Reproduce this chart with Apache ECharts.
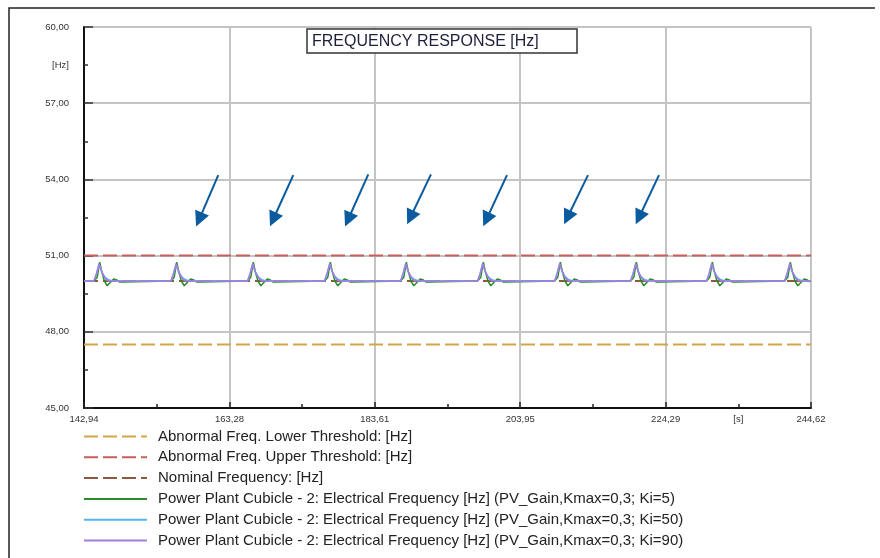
<!DOCTYPE html>
<html><head><meta charset="utf-8">
<script src="https://cdn.jsdelivr.net/npm/echarts@6/dist/echarts.min.js"></script>
<style>html,body{margin:0;padding:0;background:#fff}#c{width:880px;height:558px}</style>
</head><body><div id="c"></div>
<script>
// ---- axis extents and tick labels ----
const xMin = 142.94, xMax = 244.62;
const xTickValues = [142.94, 163.28, 183.61, 203.95, 224.29, 244.62];
const xMinorTicks = [153.11, 173.45, 193.78, 214.12, 234.45];
const xLabelValues = [142.94, 163.28, 183.61, 203.95, 224.29, 234.45, 244.62];
const xLabelTexts = ['142,94', '163,28', '183,61', '203,95', '224,29', '[s]', '244,62'];
const yMin = 45, yMax = 60, yStep = 3;
const yLabelValues = [45, 48, 51, 54, 57, 58.5, 60];
const yLabelTexts = ['45,00', '48,00', '51,00', '54,00', '57,00', '[Hz]', '60,00'];

// ---- series ----
const seriesNames = [
  'Abnormal Freq. Lower Threshold: [Hz]',
  'Abnormal Freq. Upper Threshold: [Hz]',
  'Nominal Frequency: [Hz]',
  'Power Plant Cubicle - 2: Electrical Frequency [Hz] (PV_Gain,Kmax=0,3; Ki=5)',
  'Power Plant Cubicle - 2: Electrical Frequency [Hz] (PV_Gain,Kmax=0,3; Ki=50)',
  'Power Plant Cubicle - 2: Electrical Frequency [Hz] (PV_Gain,Kmax=0,3; Ki=90)'
];
const lowerThreshold = 47.5;
const upperThreshold = 51.0;
const nominalFreq = 50.0;
// start times of the repeated disturbances [s]
const eventStarts = [144.34, 155.11, 165.82, 176.59, 187.22, 197.99, 208.76, 219.39, 230.02, 240.93];
// transient response after each disturbance: [seconds after start, Hz]
const greenKi5 = [[0, 50.0], [0.45, 50.15], [0.8, 50.74], [1.1, 50.35], [1.45, 50.0], [1.85, 49.81], [2.3, 49.95], [2.75, 50.08], [3.2, 50.04], [3.55, 49.96], [4.0, 49.96], [4.2, 50.0]];
const blueKi50 = [[0, 50.0], [0.35, 50.28], [0.72, 50.66], [1.1, 50.35], [1.5, 50.16], [2.0, 50.05], [2.6, 50.0]];
const purpleKi90 = [[0, 50.0], [0.35, 50.3], [0.7, 50.68], [1.0, 50.42], [1.35, 50.2], [1.7, 50.06], [2.1, 50.0]];

// ---- arrow annotations (data coordinates) ----
const arrowTails = [[161.72, 54.17], [172.21, 54.17], [182.70, 54.2], [191.47, 54.2], [202.10, 54.17], [213.43, 54.17], [223.36, 54.17]];
const arrowHeads = [[159.04, 52.42], [169.39, 52.42], [179.88, 52.42], [188.59, 52.5], [199.22, 52.42], [210.55, 52.5], [220.56, 52.5]];

const colors = ['#d2a546', '#c85e5e', '#8c5a3e', '#2a8c2a', '#55b4f0', '#a77ce0'];
const FONT = '"Liberation Sans", Arial, sans-serif';

function buildTrace(shape) {
  const pts = [[xMin, nominalFreq]];
  eventStarts.forEach(t0 => shape.forEach(p => pts.push([+(t0 + p[0]).toFixed(3), p[1]])));
  if (pts[pts.length - 1][0] < xMax) pts.push([xMax, nominalFreq]);
  return pts.filter(p => p[0] <= xMax);
}
function flat(v) { return [[xMin, v], [xMax, v]]; }
function pick(vals, texts, v) {
  for (let i = 0; i < vals.length; i++) if (Math.abs(vals[i] - v) < 1e-6) return texts[i];
  return '';
}

const chart = echarts.init(document.getElementById('c'), null, {renderer: 'canvas'});
const lineBase = {type: 'line', symbol: 'none', showSymbol: false, animation: false, silent: true, emphasis: {disabled: true}};

chart.setOption({
  animation: false,
  backgroundColor: '#fff',
  grid: {left: 84, right: 69, top: 27, bottom: 150, containLabel: false, outerBoundsMode: 'none'},
  xAxis: [{
    type: 'value', min: xMin, max: xMax, position: 'bottom',
    axisLine: {show: true, onZero: false, lineStyle: {color: '#111', width: 2}},
    axisTick: {show: true, inside: true, length: 6, customValues: xTickValues, lineStyle: {color: '#222', width: 1.5}},
    axisLabel: {show: true, customValues: xLabelValues, margin: 6, fontSize: 9.5, color: '#333', fontFamily: FONT,
      showMinLabel: true, showMaxLabel: true, hideOverlap: false,
      formatter: v => pick(xLabelValues, xLabelTexts, v)},
    splitLine: {show: true, lineStyle: {color: '#c4c4c4', width: 2}}
  }, {
    type: 'value', min: xMin, max: xMax, position: 'bottom',
    axisLine: {show: false},
    axisTick: {show: true, inside: true, length: 4, customValues: xMinorTicks, lineStyle: {color: '#222', width: 1.5}},
    axisLabel: {show: false},
    splitLine: {show: false}
  }],
  yAxis: {
    type: 'value', min: yMin, max: yMax, interval: yStep,
    axisLine: {show: true, onZero: false, lineStyle: {color: '#111', width: 2}},
    axisTick: {show: true, inside: true, length: 9, lineStyle: {color: '#333', width: 1.5}},
    minorTick: {show: true, splitNumber: 2, length: 4, lineStyle: {color: '#333', width: 1.5}},
    axisLabel: {show: true, customValues: yLabelValues, margin: 15, fontSize: 9.5, color: '#333', fontFamily: FONT,
      showMinLabel: true, showMaxLabel: true, hideOverlap: false,
      formatter: v => pick(yLabelValues, yLabelTexts, v)},
    splitLine: {show: true, lineStyle: {color: '#c4c4c4', width: 2}}
  },
  legend: {
    orient: 'vertical', left: 78, top: 424, itemWidth: 63, itemHeight: 14, itemGap: 5.8,
    selectedMode: false, itemStyle: {opacity: 0},
    textStyle: {fontFamily: FONT, fontSize: 15, lineHeight: 15, color: '#222', padding: [0, 0, 0, 6]},
    data: seriesNames
  },
  series: [
    Object.assign({}, lineBase, {name: seriesNames[0], data: flat(lowerThreshold), color: colors[0],
      lineStyle: {color: colors[0], width: 1.8, type: [14, 5]}}),
    Object.assign({}, lineBase, {name: seriesNames[1], data: flat(upperThreshold), color: colors[1],
      lineStyle: {color: colors[1], width: 2, type: [14, 5]}}),
    Object.assign({}, lineBase, {name: seriesNames[2], data: flat(nominalFreq), color: colors[2],
      lineStyle: {color: colors[2], width: 1.8, type: [14, 5]},
      markLine: {silent: true, animation: false, symbol: ['none', 'triangle'], symbolSize: 15,
        label: {show: false}, emphasis: {disabled: true},
        lineStyle: {color: '#0b5c9e', width: 2, type: 'solid'},
        data: arrowTails.map((t, i) => [{coord: t}, {coord: arrowHeads[i]}])}}),
    Object.assign({}, lineBase, {name: seriesNames[3], data: buildTrace(greenKi5), color: colors[3],
      lineStyle: {color: colors[3], width: 1.5}}),
    Object.assign({}, lineBase, {name: seriesNames[4], data: buildTrace(blueKi50), color: colors[4],
      lineStyle: {color: colors[4], width: 1.5}}),
    Object.assign({}, lineBase, {name: seriesNames[5], data: buildTrace(purpleKi90), color: colors[5],
      lineStyle: {color: colors[5], width: 1.5}})
  ],
  graphic: [
    {type: 'polyline', silent: true, shape: {points: [[9, 558], [9, 8], [875, 8]]},
      style: {stroke: '#222', lineWidth: 1.5, fill: null}, z: 100},
    {type: 'rect', silent: true, shape: {x: 307, y: 29, width: 270, height: 24},
      style: {fill: '#fff', stroke: '#333', lineWidth: 1.5}, z: 100},
    {type: 'text', silent: true, x: 312, y: 41.5, z: 101,
      style: {text: 'FREQUENCY RESPONSE [Hz]', fill: '#1e1e3c', font: '16px ' + FONT, verticalAlign: 'middle', align: 'left'}}
  ]
});
</script></body></html>
